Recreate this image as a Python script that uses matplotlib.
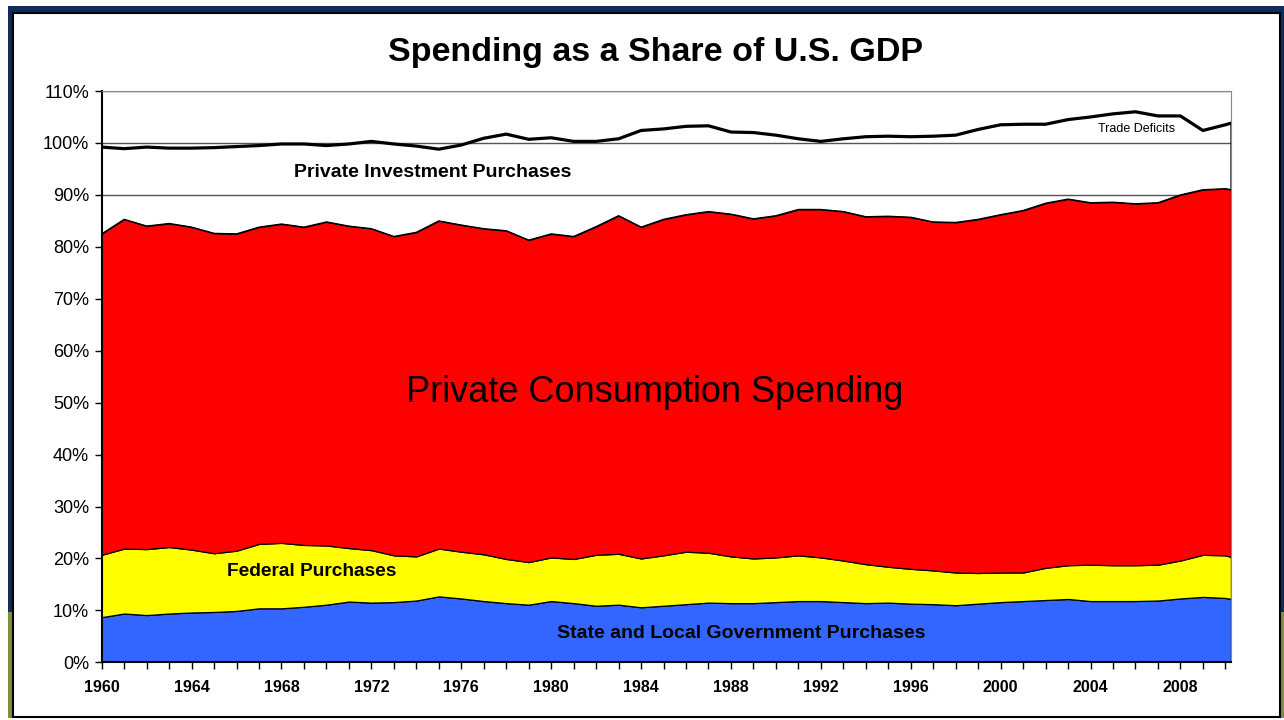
import matplotlib
matplotlib.use("Agg")
import matplotlib.pyplot as plt
from matplotlib.patches import Rectangle
import numpy as np

years = list(range(1960, 2011)) + [2010.25]

state_local = [8.7, 9.4, 9.1, 9.4, 9.6, 9.7, 9.9, 10.4, 10.4, 10.7,
               11.1, 11.7, 11.5, 11.6, 11.9, 12.7, 12.3, 11.8, 11.4, 11.1,
               11.8, 11.4, 10.9, 11.1, 10.6, 10.9, 11.2, 11.5, 11.4, 11.4,
               11.6, 11.8, 11.8, 11.6, 11.4, 11.5, 11.3, 11.2, 11.0, 11.3,
               11.6, 11.8, 12.0, 12.2, 11.8, 11.8, 11.8, 11.9, 12.3, 12.6,
               12.4, 12.2]
federal = [12.0, 12.5, 12.7, 12.8, 12.1, 11.3, 11.6, 12.4, 12.6, 11.9,
           11.4, 10.3, 10.1, 9.0, 8.5, 9.2, 9.0, 9.0, 8.5, 8.2,
           8.4, 8.5, 9.8, 9.8, 9.4, 9.7, 10.1, 9.6, 9.0, 8.6,
           8.6, 8.8, 8.4, 8.0, 7.5, 6.9, 6.7, 6.5, 6.3, 5.9,
           5.7, 5.5, 6.2, 6.5, 7.0, 6.9, 6.9, 6.9, 7.3, 8.1,
           8.2, 8.1]
consumption = [61.8, 63.4, 62.2, 62.3, 62.1, 61.6, 61.0, 61.0, 61.4, 61.2,
               62.3, 62.0, 61.9, 61.4, 62.4, 63.1, 62.9, 62.7, 63.2, 62.0,
               62.3, 62.1, 63.2, 65.1, 63.8, 64.7, 64.9, 65.7, 65.9, 65.4,
               65.8, 66.6, 67.0, 67.2, 66.9, 67.5, 67.7, 67.1, 67.4, 68.1,
               68.9, 69.7, 70.2, 70.5, 69.7, 69.9, 69.6, 69.7, 70.4, 70.3,
               70.6, 70.7]
investment = [16.7, 13.6, 15.2, 14.5, 15.2, 16.5, 16.8, 15.7, 15.4, 16.0,
              14.7, 15.8, 16.8, 17.8, 16.6, 13.8, 15.4, 17.4, 18.6, 19.4,
              18.5, 18.3, 16.4, 14.8, 18.6, 17.4, 17.0, 16.5, 15.8, 16.6,
              15.5, 13.6, 13.1, 14.0, 15.4, 15.4, 15.5, 16.5, 16.8, 17.3,
              17.3, 16.6, 15.2, 15.3, 16.5, 17.0, 17.7, 16.7, 15.2, 11.4,
              12.3, 12.8]

yticks = list(range(0, 111, 10))
xlabel_years = list(range(1960, 2009, 4))

plt.rcParams["font.family"] = ["Liberation Sans", "DejaVu Sans"]

x = np.array(years)
b1 = np.array(state_local)
b2 = b1 + np.array(federal)
b3 = b2 + np.array(consumption)
total = b3 + np.array(investment)

fig = plt.figure(figsize=(12.84, 7.2), dpi=100)
ax = fig.add_axes([0.0792, 0.0801, 0.8795, 0.7935])

ax.fill_between(x, 0, b1, facecolor="#3366FF", edgecolor="black", lw=0.9, zorder=2)
ax.fill_between(x, b1, b2, facecolor="#FFFF00", edgecolor="black", lw=0.9, zorder=2)
ax.fill_between(x, b2, b3, facecolor="#FF0000", edgecolor="black", lw=0.9, zorder=2)
ax.fill_between(x, b3, total, facecolor="none", edgecolor="black", lw=0.9, zorder=2)
ax.plot(x, total, color="black", lw=2.3, zorder=3)

ax.set_xlim(1960, 2010.25)
ax.set_ylim(0, 110)
ax.set_yticks(yticks)
ax.set_yticklabels([f"{t}%" for t in yticks], fontsize=13)
ax.set_xticks(range(1960, 2011))
ax.set_xticklabels([str(y) if y in xlabel_years else "" for y in range(1960, 2011)],
                   fontsize=11.5, fontweight="bold")
ax.tick_params(axis="both", direction="out", length=5, width=1, color="black")
ax.tick_params(axis="x", pad=8)
ax.tick_params(axis="y", pad=4)

ax.set_axisbelow(True)
ax.grid(axis="y", color="#555555", lw=1)
ax.spines["left"].set_linewidth(1.5)
ax.spines["bottom"].set_linewidth(1.5)
ax.spines["top"].set_color("#888888")
ax.spines["right"].set_color("#888888")

ax.text(1974.74, 94.3, "Private Investment Purchases", fontsize=14,
        fontweight="bold", ha="center", va="center")
ax.text(1984.6, 52.0, "Private Consumption Spending", fontsize=26,
        ha="center", va="center")
ax.text(1969.36, 17.4, "Federal Purchases", fontsize=13.8,
        fontweight="bold", ha="center", va="center")
ax.text(1988.44, 5.6, "State and Local Government Purchases", fontsize=14,
        fontweight="bold", ha="center", va="center")
ax.text(2006.06, 102.6, "Trade Deficits", fontsize=9, ha="center", va="center")

fig.text(655 / 1284, 1 - 53 / 720, "Spending as a Share of U.S. GDP",
         fontsize=24.5, fontweight="bold", ha="center", va="center")

# slide frame
W, H = 1284, 720
def box(x0, y0, x1, y1, **kw):
    fig.add_artist(Rectangle((x0 / W, 1 - y1 / H), (x1 - x0) / W, (y1 - y0) / H,
                             transform=fig.transFigure, **kw))

navy = "#0f2b5b"
olive = "#7f8f3a"
box(8, 6, 1284, 12, facecolor=navy, edgecolor="none")
box(8, 6, 12, 612, facecolor=navy, edgecolor="none")
box(8, 612, 12, 718, facecolor=olive, edgecolor="none")
box(1280, 6, 1284, 612, facecolor=navy, edgecolor="none")
box(1280, 612, 1284, 718, facecolor=olive, edgecolor="none")
box(12.5, 12.5, 1279.5, 716.5, facecolor="none", edgecolor="black", lw=1.5)

fig.savefig("out.png", dpi=100)
